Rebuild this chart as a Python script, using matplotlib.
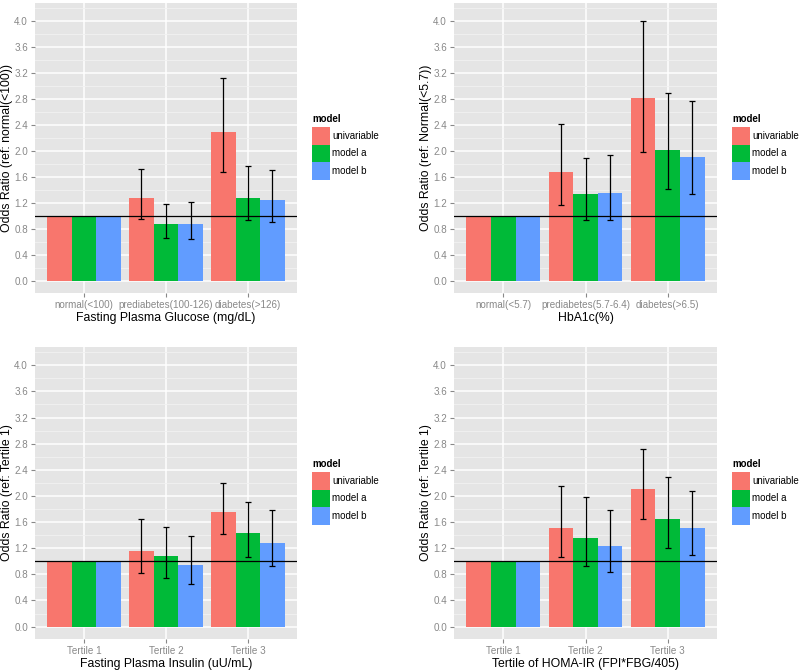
import matplotlib
matplotlib.use("Agg")
import matplotlib.pyplot as plt
import numpy as np
from matplotlib.ticker import MultipleLocator

plt.rcParams["font.family"] = ["Liberation Sans", "DejaVu Sans"]

models = ["univariable", "model a", "model b"]
colors = ["#F8766D", "#00BA38", "#619CFF"]

# panel 1: fasting plasma glucose
fpg_cats = ["normal(<100)", "prediabetes(100-126)", "diabetes(>126)"]
fpg_or = [[1.0, 1.28, 2.29], [1.0, 0.88, 1.28], [1.0, 0.88, 1.24]]
fpg_lo = [[np.nan, 0.95, 1.68], [np.nan, 0.66, 0.93], [np.nan, 0.64, 0.91]]
fpg_hi = [[np.nan, 1.72, 3.13], [np.nan, 1.18, 1.76], [np.nan, 1.22, 1.70]]

# panel 2: HbA1c
hba_cats = ["normal(<5.7)", "prediabetes(5.7-6.4)", "diabetes(>6.5)"]
hba_or = [[1.0, 1.68, 2.82], [1.0, 1.33, 2.02], [1.0, 1.35, 1.91]]
hba_lo = [[np.nan, 1.17, 1.98], [np.nan, 0.94, 1.41], [np.nan, 0.93, 1.33]]
hba_hi = [[np.nan, 2.42, 4.01], [np.nan, 1.89, 2.89], [np.nan, 1.94, 2.77]]

# panel 3: fasting plasma insulin
fpi_cats = ["Tertile 1", "Tertile 2", "Tertile 3"]
fpi_or = [[1.0, 1.16, 1.76], [1.0, 1.08, 1.43], [1.0, 0.95, 1.28]]
fpi_lo = [[np.nan, 0.82, 1.41], [np.nan, 0.74, 1.06], [np.nan, 0.65, 0.93]]
fpi_hi = [[np.nan, 1.64, 2.20], [np.nan, 1.53, 1.91], [np.nan, 1.39, 1.78]]

# panel 4: HOMA-IR
homa_cats = ["Tertile 1", "Tertile 2", "Tertile 3"]
homa_or = [[1.0, 1.51, 2.11], [1.0, 1.36, 1.65], [1.0, 1.23, 1.51]]
homa_lo = [[np.nan, 1.07, 1.65], [np.nan, 0.93, 1.20], [np.nan, 0.84, 1.09]]
homa_hi = [[np.nan, 2.15, 2.72], [np.nan, 1.99, 2.29], [np.nan, 1.78, 2.07]]

panels = [
    (fpg_cats, fpg_or, fpg_lo, fpg_hi, "Fasting Plasma Glucose (mg/dL)", "Odds Ratio (ref: normal(<100))", (35, 3, 297, 293)),
    (hba_cats, hba_or, hba_lo, hba_hi, "HbA1c(%)", "Odds Ratio (ref: Normal(<5.7))", (454, 3, 717, 293)),
    (fpi_cats, fpi_or, fpi_lo, fpi_hi, "Fasting Plasma Insulin (uU/mL)", "Odds Ratio (ref: Tertile 1)", (35, 347, 297, 639)),
    (homa_cats, homa_or, homa_lo, homa_hi, "Tertile of HOMA-IR (FPI*FBG/405)", "Odds Ratio (ref: Tertile 1)", (454, 347, 717, 639)),
]

W, H = 800, 670
fig = plt.figure(figsize=(W / 100, H / 100), dpi=100)
fig.patch.set_facecolor("white")

grey = "#888888"
for cats, ors, los, his, xlab, ylab, (x0, y0, x1, y1) in panels:
    ax = fig.add_axes([x0 / W, 1 - y1 / H, (x1 - x0) / W, (y1 - y0) / H])
    ax.set_facecolor("#E5E5E5")
    for s in ax.spines.values():
        s.set_visible(False)
    x = np.arange(1, 4)
    bw = 0.3
    handles = []
    for i, m in enumerate(models):
        pos = x + (i - 1) * bw
        b = ax.bar(pos, ors[i], width=bw, color=colors[i], label=m, zorder=2)
        handles.append(b)
        val = np.array(ors[i])
        lo = np.array(los[i])
        hi = np.array(his[i])
        ax.errorbar(pos, val, yerr=[val - lo, hi - val], fmt="none", ecolor="black",
                    elinewidth=0.9, capsize=2.3, capthick=0.9, zorder=3)
    ax.axhline(1.0, color="black", lw=0.9, zorder=4)
    ax.set_xlim(0.4, 3.6)
    ax.set_ylim(-0.19, 4.28)
    ax.yaxis.set_minor_locator(MultipleLocator(0.2))
    ax.set_yticks(np.arange(0, 4.01, 0.4))
    ax.set_yticklabels(["%.1f" % v for v in np.arange(0, 4.01, 0.4)])
    ax.set_xticks(x)
    ax.set_xticklabels(cats)
    ax.grid(True, which="major", color="white", lw=1.1, zorder=0)
    ax.grid(True, which="minor", axis="y", color="#F2F2F2", lw=0.6, zorder=0)
    ax.set_axisbelow(True)
    ax.tick_params(which="major", colors=grey, labelcolor=grey, labelsize=7.1,
                   length=3, width=0.8, pad=2)
    ax.tick_params(which="minor", length=0)
    ax.set_xlabel(xlab, fontsize=8.8, color="black")
    ax.set_ylabel(ylab, fontsize=8.8, color="black")
    ax.xaxis.set_label_coords(0.5, -19.0 / (y1 - y0))
    ax.yaxis.set_label_coords(-21.5 / (x1 - x0), 0.5)

    yc = (y0 + y1) / 2
    fig.text((x1 + 15) / W, 1 - (yc - 29) / H, "model", fontsize=7, fontweight="bold",
             ha="left", va="center")
    fig.legend(handles=handles, labels=models, loc="upper left",
               bbox_to_anchor=((x1 + 15) / W, 1 - (yc - 21) / H),
               frameon=False, fontsize=7,
               handlelength=1.82, handleheight=2.41, labelspacing=0,
               handletextpad=0.24, borderpad=0, borderaxespad=0)

fig.savefig("out.png", dpi=100)
